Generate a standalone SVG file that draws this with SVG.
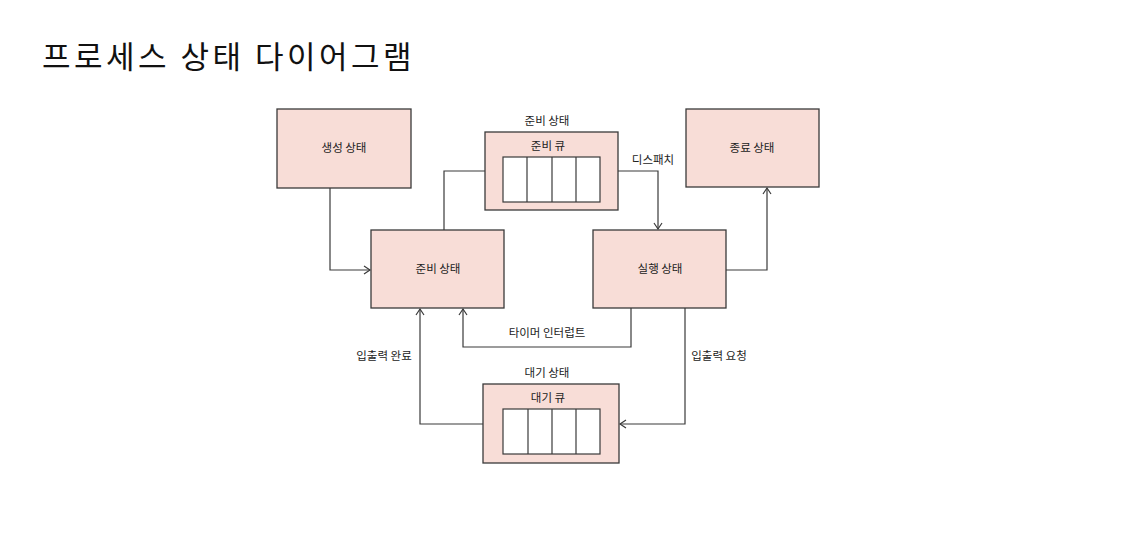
<svg xmlns="http://www.w3.org/2000/svg" width="1140" height="544" viewBox="0 0 1140 544">
<style>
.box{fill:#f8ddd7;stroke:#3a3a3a;stroke-width:1.3}
.cell{fill:#ffffff;stroke:#3a3a3a;stroke-width:1.2}
.t{font-family:"Noto Sans CJK KR","Noto Sans",sans-serif;font-size:11.5px;fill:#222;text-anchor:middle}
.title{font-family:"Noto Sans CJK KR","Noto Sans",sans-serif;font-size:31px;letter-spacing:3.5px;fill:#111}
.ln{fill:none;stroke:#3a3a3a;stroke-width:1.2}
</style>
<defs>
<marker id="arr" markerWidth="10" markerHeight="10" refX="8" refY="5" orient="auto" markerUnits="userSpaceOnUse">
<path d="M2,1 L8,5 L2,9" fill="none" stroke="#3a3a3a" stroke-width="1.2"/>
</marker>
</defs>
<rect width="1140" height="544" fill="#ffffff"/>
<text class="title" x="42" y="68">프로세스 상태 다이어그램</text>

<g id="connectors">
<path class="ln" d="M330,188 V270 H370" marker-end="url(#arr)"/>
<path class="ln" d="M444,230 V171 H485"/>
<path class="ln" d="M618,171 H658 V229" marker-end="url(#arr)"/>
<path class="ln" d="M726,270 H767 V188" marker-end="url(#arr)"/>
<path class="ln" d="M631,308 V347 H463 V309" marker-end="url(#arr)"/>
<path class="ln" d="M685,308 V424 H620" marker-end="url(#arr)"/>
<path class="ln" d="M483,424 H420 V309" marker-end="url(#arr)"/>
<text class="t" x="653" y="164">디스패치</text>
<text class="t" x="547" y="337">타이머 인터럽트</text>
<text class="t" x="384" y="360">입출력 완료</text>
<text class="t" x="719" y="360">입출력 요청</text>
</g>

<g id="node-create">
<rect class="box" x="277" y="109" width="134" height="79"/>
<text class="t" x="344" y="152">생성 상태</text>
</g>
<g id="node-ready-queue">
<text class="t" x="547" y="125">준비 상태</text>
<rect class="box" x="485" y="132" width="133" height="78"/>
<text class="t" x="548" y="150">준비 큐</text>
<rect class="cell" x="503" y="157" width="97" height="45"/>
<line class="cell" x1="527" y1="157" x2="527" y2="202"/>
<line class="cell" x1="552" y1="157" x2="552" y2="202"/>
<line class="cell" x1="576" y1="157" x2="576" y2="202"/>
</g>
<g id="node-terminate">
<rect class="box" x="686" y="109" width="133" height="78"/>
<text class="t" x="752" y="152">종료 상태</text>
</g>
<g id="node-ready">
<rect class="box" x="371" y="230" width="133" height="78"/>
<text class="t" x="438" y="273">준비 상태</text>
</g>
<g id="node-running">
<rect class="box" x="593" y="230" width="133" height="78"/>
<text class="t" x="660" y="273">실행 상태</text>
</g>
<g id="node-wait-queue">
<text class="t" x="547" y="377">대기 상태</text>
<rect class="box" x="483" y="384" width="136" height="79"/>
<text class="t" x="548" y="402">대기 큐</text>
<rect class="cell" x="503" y="409" width="97" height="45"/>
<line class="cell" x1="528" y1="409" x2="528" y2="454"/>
<line class="cell" x1="552" y1="409" x2="552" y2="454"/>
<line class="cell" x1="576" y1="409" x2="576" y2="454"/>
</g>
</svg>
